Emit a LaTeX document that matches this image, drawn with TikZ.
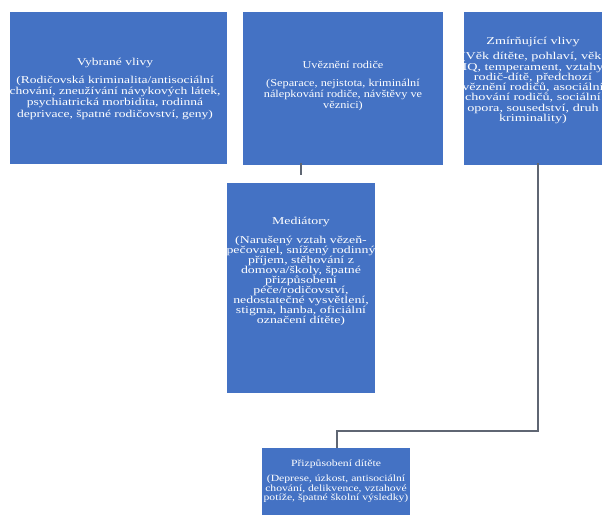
\documentclass[tikz,border=0pt]{standalone}
\usepackage{fontspec}
\setmainfont{Liberation Serif}
\newfontfamily\fA{Liberation Serif}[FakeStretch=1.29]
\newfontfamily\fE{Liberation Serif}[FakeStretch=1.35]
\newfontfamily\fB{Liberation Serif}[FakeStretch=1.17]
\newfontfamily\fC{Liberation Serif}[FakeStretch=1.32]
\newfontfamily\fD{Liberation Serif}[FakeStretch=1.23]
\definecolor{boxblue}{HTML}{4472C4}
\definecolor{linegray}{HTML}{5F6673}
\tikzset{
  box/.style={rectangle, fill=boxblue, draw=none, inner sep=0pt},
  txt/.style={text=white, align=center, inner sep=0pt},
  conn/.style={draw=linegray, line width=1.3pt}
}
\begin{document}
\begin{tikzpicture}[x=1pt,y=-1pt]
\path[use as bounding box, clip] (0,0) rectangle (602,514);
\fill[white] (0,0) rectangle (602,514);
% boxes
\node[box, minimum width=217pt, minimum height=152pt] (vyb) at (118.5,88) {};
\node[box, minimum width=200pt, minimum height=153pt] (uv) at (343,88.5) {};
\node[box, minimum width=150pt, minimum height=153pt] (zm) at (539,88.5) {};
\node[box, minimum width=148pt, minimum height=210pt] (med) at (301,288) {};
\node[box, minimum width=148pt, minimum height=75pt] (pr) at (336,485.5) {};
% texts
\node[txt, font=\fA\fontsize{10.5}{11.4}\selectfont] (tvyb) at (115,89) {Vybrané vlivy\\[6pt](Rodičovská kriminalita/antisociální\\chování, zneužívání návykových látek,\\psychiatrická morbidita, rodinná\\deprivace, špatné rodičovství, geny)};
\node[txt, font=\fB\fontsize{10.5}{11}\selectfont] (tuv) at (343,86) {Uvěznění rodiče\\[7pt](Separace, nejistota, kriminální\\nálepkování rodiče, návštěvy ve\\věznici)};
\node[txt, font=\fE\fontsize{10.5}{10.3}\selectfont] (tzm) at (533,80.5) {Zmírňující vlivy\\[5pt](Věk dítěte, pohlaví, věk,\\IQ, temperament, vztahy\\rodič-dítě, předchozí\\věznění rodičů, asociální\\chování rodičů, sociální\\opora, sousedství, druh\\kriminality)};
\node[txt, font=\fC\fontsize{10.5}{10}\selectfont] (tmed) at (301,271) {Mediátory\\[9pt](Narušený vztah vězeň-\\pečovatel, snížený rodinný\\příjem, stěhování z\\domova/školy, špatné\\přizpůsobení\\péče/rodičovství,\\nedostatečné vysvětlení,\\stigma, hanba, oficiální\\označení dítěte)};
\node[txt, font=\fD\fontsize{9.5}{9.3}\selectfont] (tpr) at (336,481) {Přizpůsobení dítěte\\[6pt](Deprese, úzkost, antisociální\\chování, delikvence, vztahové\\potíže, špatné školní výsledky)};
% connectors
\coordinate (tick) at (301,175);
\draw[conn] (uv.south -| tick) ++(0,-2) -- (tick);
\coordinate (bend) at (538,431);
\draw[conn] ([yshift=2pt]zm.south -| bend) -- (bend) -| ([xshift=1pt]pr.north);
\end{tikzpicture}
\end{document}
